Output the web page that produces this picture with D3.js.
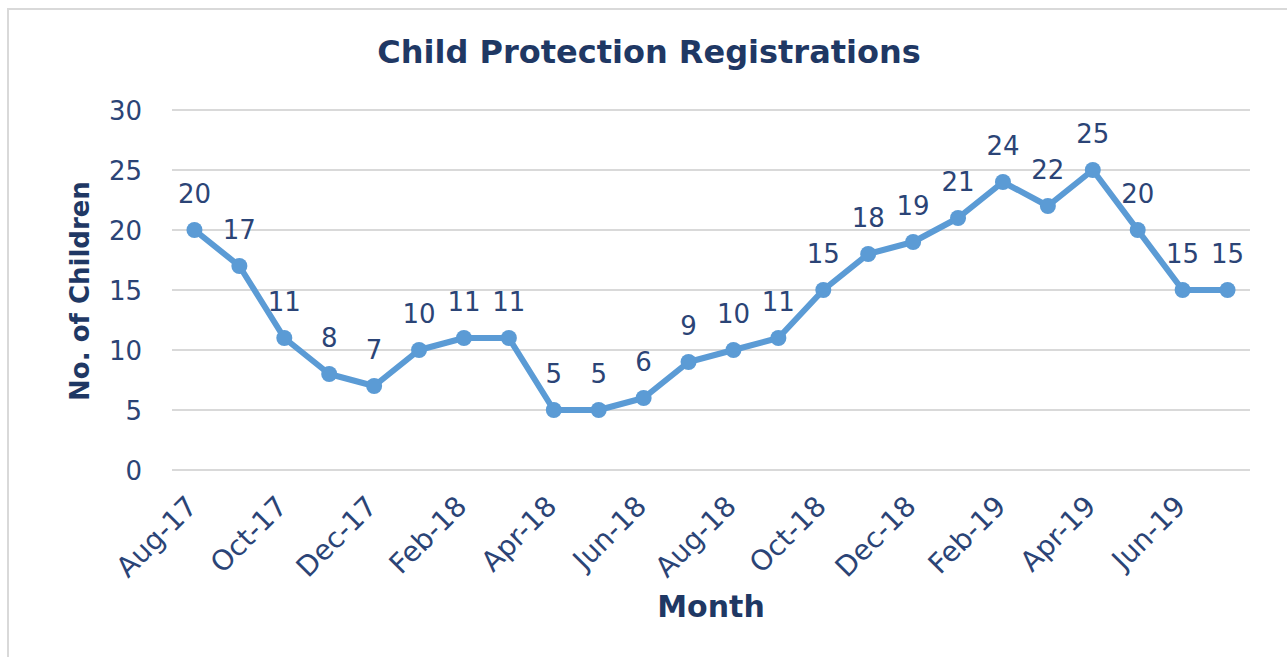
<!DOCTYPE html>
<html><head><meta charset="utf-8">
<script src="https://cdn.jsdelivr.net/npm/d3@7"></script>
<style>html,body{margin:0;padding:0;background:#fff;}svg{display:block;}</style>
</head><body>
<svg id="chart" width="1287" height="657"></svg>
<script>
const months = ["Aug-17","Sep-17","Oct-17","Nov-17","Dec-17","Jan-18","Feb-18","Mar-18","Apr-18","May-18","Jun-18","Jul-18","Aug-18","Sep-18","Oct-18","Nov-18","Dec-18","Jan-19","Feb-19","Mar-19","Apr-19","May-19","Jun-19","Jul-19"];
const registrations = [20,17,11,8,7,10,11,11,5,5,6,9,10,11,15,18,19,21,24,22,25,20,15,15];
const tickMonths = ["Aug-17","Oct-17","Dec-17","Feb-18","Apr-18","Jun-18","Aug-18","Oct-18","Dec-18","Feb-19","Apr-19","Jun-19"];
const yTicks = [0,5,10,15,20,25,30];
const title = "Child Protection Registrations";
const xTitle = "Month";
const yTitle = "No. of Children";

const font = "'DejaVu Sans', sans-serif";
const navy = "#1F3864";
const tickColor = "#2B4476";
const lineColor = "#5B9BD5";
const gridColor = "#D9D9D9";

const svg = d3.select("#chart");
svg.append("rect").attr("x",0).attr("y",0).attr("width",1287).attr("height",657).attr("fill","#fff");
svg.append("rect").attr("x",8).attr("y",9).attr("width",1400).attr("height",800)
  .attr("fill","none").attr("stroke",gridColor).attr("stroke-width",2);

const x = d3.scalePoint().domain(months).range([172,1250]).padding(0.5);
const y = d3.scaleLinear().domain([0,30]).range([470,110]);

// gridlines
svg.append("g").selectAll("line").data(yTicks).join("line")
  .attr("x1",172).attr("x2",1250)
  .attr("y1",d=>y(d)).attr("y2",d=>y(d))
  .attr("stroke",gridColor).attr("stroke-width",2);

// y axis
const yAxis = d3.axisLeft(y).tickValues(yTicks).tickSize(0).tickPadding(0);
const gy = svg.append("g").attr("transform","translate(142,0)").call(yAxis);
gy.select(".domain").remove();
gy.selectAll("text").attr("font-family",font).attr("font-size",26).attr("fill",tickColor).attr("x",0).attr("dy","0.36em");

// x axis
const xAxis = d3.axisBottom(x).tickValues(tickMonths).tickSize(0).tickPadding(0);
const gx = svg.append("g").attr("transform","translate(0,470)").call(xAxis);
gx.select(".domain").remove();
gx.selectAll("text").attr("font-family",font).attr("font-size",28).attr("fill",tickColor)
  .attr("text-anchor","end").attr("y",0).attr("dy",0)
  .attr("transform","translate(4,38) rotate(-45)");

// line
const line = d3.line().x((d,i)=>x(months[i])).y(d=>y(d));
svg.append("path").datum(registrations).attr("d",line)
  .attr("fill","none").attr("stroke",lineColor).attr("stroke-width",6)
  .attr("stroke-linejoin","round").attr("stroke-linecap","round");

svg.append("g").selectAll("circle").data(registrations).join("circle")
  .attr("cx",(d,i)=>x(months[i])).attr("cy",d=>y(d)).attr("r",8).attr("fill",lineColor);

// data labels
svg.append("g").selectAll("text").data(registrations).join("text")
  .attr("x",(d,i)=>x(months[i])).attr("y",d=>y(d)-27)
  .attr("text-anchor","middle").attr("font-family",font).attr("font-size",26)
  .attr("fill",tickColor).text(d=>d);

// titles
svg.append("text").attr("x",649).attr("y",63).attr("text-anchor","middle")
  .attr("font-family",font).attr("font-weight","bold").attr("font-size",32)
  .attr("fill",navy).text(title);
svg.append("text").attr("x",711).attr("y",617).attr("text-anchor","middle")
  .attr("font-family",font).attr("font-weight","bold").attr("font-size",30)
  .attr("fill",navy).text(xTitle);
svg.append("text").attr("transform","translate(89,291) rotate(-90)").attr("text-anchor","middle")
  .attr("font-family",font).attr("font-weight","bold").attr("font-size",26)
  .attr("fill",navy).text(yTitle);
</script>
</body></html>
